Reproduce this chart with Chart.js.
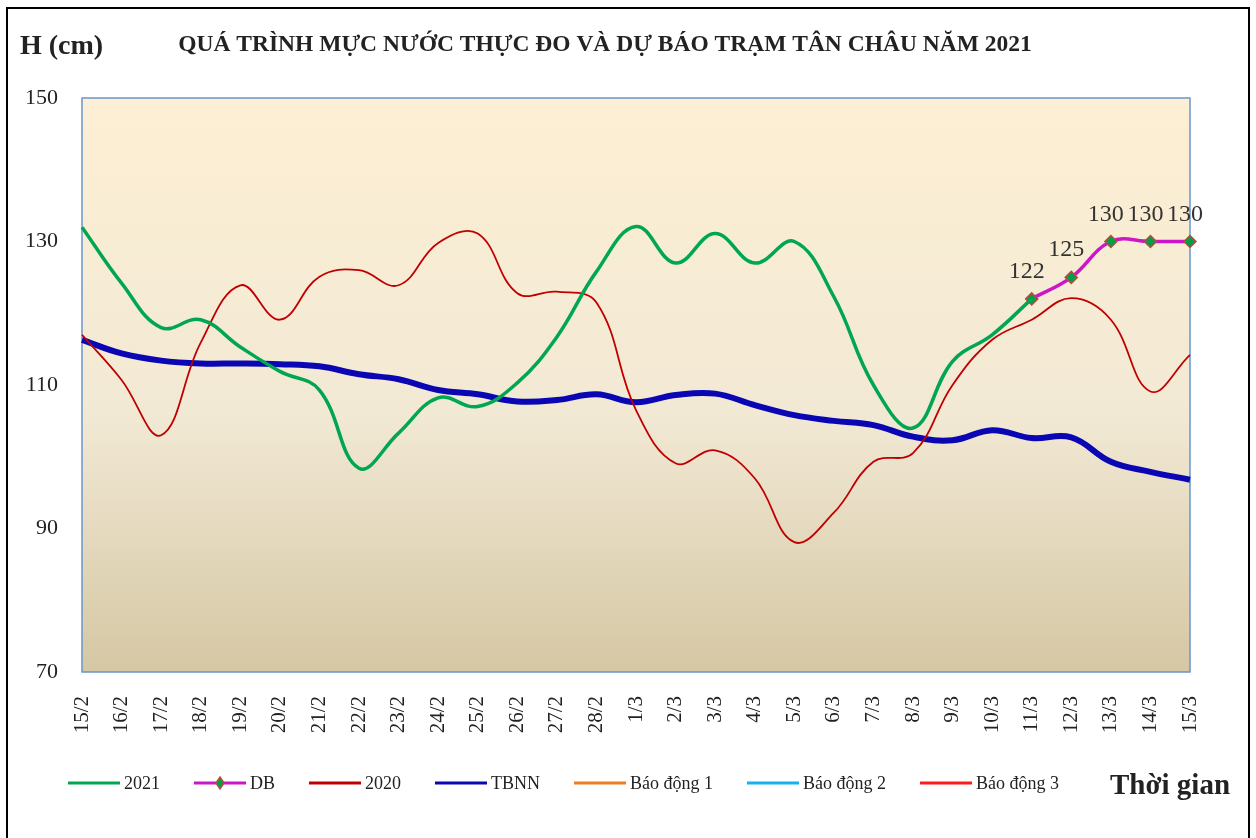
<!DOCTYPE html>
<html>
<head>
<meta charset="utf-8">
<script src="https://cdn.jsdelivr.net/npm/chart.js@4.4.1/dist/chart.umd.min.js"></script>
<style>
    body { margin: 0; background: #fff; }
    #chart { display: block; }
</style>
</head>
<body>
<canvas id="chart" width="1256" height="838"></canvas>
<script>
// Data
const dates = ['15/2', '16/2', '17/2', '18/2', '19/2', '20/2', '21/2', '22/2', '23/2', '24/2',
    '25/2', '26/2', '27/2', '28/2', '1/3', '2/3', '3/3', '4/3', '5/3', '6/3',
    '7/3', '8/3', '9/3', '10/3', '11/3', '12/3', '13/3', '14/3', '15/3'];

const h2021 = [132, 124.2, 118, 119.1, 115.3, 111.9, 109.3, 98.4, 103.3, 108.2,
    107, 110.3, 116.7, 125.8, 132.1, 127, 131.1, 127, 130, 122.3,
    110, 104, 113.3, 117, 122, null, null, null, null];

const forecast = [null, null, null, null, null, null, null, null, null, null,
    null, null, null, null, null, null, null, null, null, null,
    null, null, null, null, 122, 125, 130, 130, 130];

const h2020 = [117, 110.7, 103, 115.9, 123.9, 119.1, 125.1, 126, 123.9, 129.8,
    131.1, 122.8, 123, 121.5, 106.5, 99.1, 100.9, 97, 88.1, 92.2,
    99.3, 100.5, 110, 116.3, 119.1, 122.1, 119.1, 109.1, 114.2];

const tbnn = [116.3, 114.4, 113.4, 113, 113, 112.9, 112.6, 111.5, 110.8, 109.3,
    108.7, 107.7, 107.9, 108.7, 107.6, 108.6, 108.8, 107.2, 105.8, 105,
    104.4, 102.8, 102.3, 103.7, 102.6, 102.7, 99.3, 97.9, 96.8];

const yTicks = [70, 90, 110, 130, 150];

const serif = '"Liberation Serif", "Times New Roman", serif';

// Plot background gradient + border
const plotBackground = {
    id: 'plotBackground',
    beforeDraw(chart) {
        const { ctx, chartArea: a } = chart;
        ctx.save();
        ctx.fillStyle = '#fff';
        ctx.fillRect(0, 0, chart.width, chart.height);
        const g = ctx.createLinearGradient(0, a.top, 0, a.bottom);
        g.addColorStop(0, '#fdefd3');
        g.addColorStop(0.55, '#f2e9d5');
        g.addColorStop(1, '#d5c7a4');
        ctx.fillStyle = g;
        ctx.fillRect(a.left, a.top, a.right - a.left, a.bottom - a.top);
        ctx.strokeStyle = '#6a95cc';
        ctx.lineWidth = 1.5;
        ctx.strokeRect(a.left, a.top, a.right - a.left, a.bottom - a.top);
        // outer frame
        ctx.strokeStyle = '#000';
        ctx.lineWidth = 2;
        ctx.strokeRect(7, 8, 1242, 840);
        ctx.restore();
    }
};

// Texts, value labels and legend
const decorations = {
    id: 'decorations',
    afterDraw(chart) {
        const { ctx } = chart;
        ctx.save();
        ctx.fillStyle = '#222';
        ctx.textBaseline = 'alphabetic';

        ctx.font = 'bold 28px ' + serif;
        ctx.textAlign = 'left';
        ctx.fillText('H (cm)', 20, 54);

        ctx.font = 'bold 23.5px ' + serif;
        ctx.textAlign = 'center';
        ctx.fillText('QUÁ TRÌNH MỰC NƯỚC THỰC ĐO VÀ DỰ BÁO TRẠM TÂN CHÂU NĂM 2021', 605, 51);

        ctx.font = 'bold 29px ' + serif;
        ctx.textAlign = 'left';
        ctx.fillText('Thời gian', 1110, 794);

        // values of forecast points
        const meta = chart.getDatasetMeta(1);
        ctx.font = '24px ' + serif;
        ctx.fillStyle = '#333';
        ctx.textAlign = 'center';
        meta.data.forEach((pt, i) => {
            if (forecast[i] === null) return;
            ctx.fillText(String(forecast[i]), pt.x - 5, pt.y - 21);
        });

        // legend
        let x = 68;
        const y = 783;
        ctx.font = '18px ' + serif;
        ctx.textAlign = 'left';
        ctx.textBaseline = 'middle';
        chart.data.datasets.forEach(ds => {
            ctx.strokeStyle = ds.borderColor;
            ctx.lineWidth = 3;
            ctx.beginPath();
            ctx.moveTo(x, y);
            ctx.lineTo(x + 52, y);
            ctx.stroke();
            if (ds.pointRadius > 0) {
                const cx = x + 26;
                ctx.fillStyle = ds.pointBackgroundColor;
                ctx.strokeStyle = ds.pointBorderColor;
                ctx.lineWidth = 1.5;
                ctx.beginPath();
                ctx.moveTo(cx, y - 6);
                ctx.lineTo(cx + 4, y);
                ctx.lineTo(cx, y + 6);
                ctx.lineTo(cx - 4, y);
                ctx.closePath();
                ctx.fill();
                ctx.stroke();
            }
            ctx.fillStyle = '#222';
            ctx.fillText(ds.label, x + 56, y + 1);
            x += 56 + ctx.measureText(ds.label).width + 34;
        });
        ctx.restore();
    }
};

const ctx = document.getElementById('chart').getContext('2d');
const chart = new Chart(ctx, {
    type: 'line',
    data: {
        labels: dates,
        datasets: [
            { label: '2021', data: h2021, borderColor: '#00a651', borderWidth: 3.5, pointRadius: 0, tension: 0.4 },
            { label: 'DB', data: forecast, borderColor: '#cc16c8', borderWidth: 3.5, pointRadius: 6,
              pointStyle: 'rectRot', pointBackgroundColor: '#00a04a', pointBorderColor: '#b0503c',
              pointBorderWidth: 1.5, tension: 0.4 },
            { label: '2020', data: h2020, borderColor: '#c00000', borderWidth: 1.8, pointRadius: 0, tension: 0.4 },
            { label: 'TBNN', data: tbnn, borderColor: '#0a06b4', borderWidth: 6, pointRadius: 0, tension: 0.4 },
            { label: 'Báo động 1', data: [], borderColor: '#f07c1c', borderWidth: 3, pointRadius: 0 },
            { label: 'Báo động 2', data: [], borderColor: '#12b4f0', borderWidth: 3, pointRadius: 0 },
            { label: 'Báo động 3', data: [], borderColor: '#ff1a1a', borderWidth: 3, pointRadius: 0 }
        ]
    },
    options: {
        responsive: false,
        animation: false,
        layout: { padding: { top: 98, right: 66, left: 0, bottom: 0 } },
        plugins: {
            legend: { display: false },
            title: { display: false },
            tooltip: { enabled: false }
        },
        scales: {
            x: {
                grid: { display: false, drawTicks: false },
                border: { display: false },
                ticks: {
                    minRotation: 90, maxRotation: 90, autoSkip: false, padding: 24,
                    color: '#222', font: { family: serif, size: 21 }
                },
                afterFit(scale) { scale.height = 166; }
            },
            y: {
                min: 70, max: 150,
                grid: { display: false, drawTicks: false },
                border: { display: false },
                afterBuildTicks(scale) { scale.ticks = yTicks.map(v => ({ value: v })); },
                ticks: { padding: 24, color: '#222', font: { family: serif, size: 22 } },
                afterFit(scale) { scale.width = 82; }
            }
        }
    },
    plugins: [plotBackground, decorations]
});
</script>
</body>
</html>
